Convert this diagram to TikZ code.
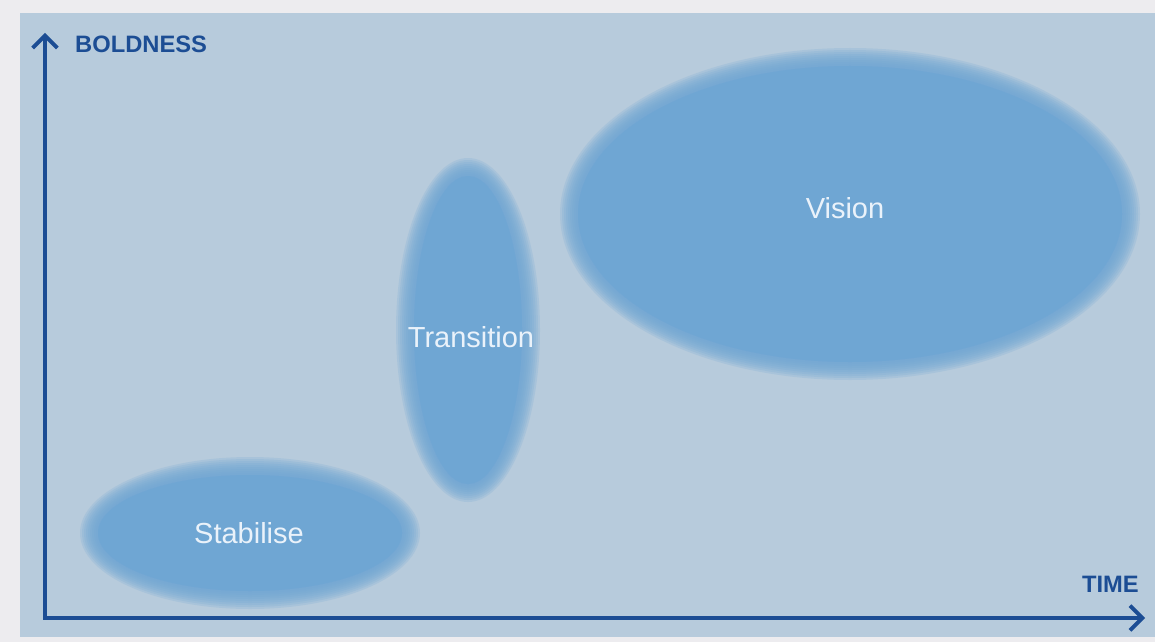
\documentclass[tikz,border=0pt]{standalone}
\usepackage{fontspec}
\setmainfont{Liberation Sans}
\usetikzlibrary{arrows.meta}
\definecolor{frame}{HTML}{EDECEF}
\definecolor{panel}{HTML}{B7CBDC}
\definecolor{blob}{HTML}{6FA6D3}
\definecolor{axisblue}{HTML}{1C4D94}
\definecolor{blobtext}{HTML}{EAF2FA}
\begin{document}
\begin{tikzpicture}[x=0.02cm,y=-0.02cm,
    axis/.style={axisblue, line width=2.2pt, line cap=round,
      {Straight Barb[length=7pt,width=14pt,line width=2.2pt]}-{Straight Barb[length=7pt,width=14pt,line width=2.2pt]}},
    axislabel/.style={axisblue, font=\fontsize{13.5}{15}\selectfont\bfseries},
    bloblabel/.style={blobtext, font=\fontsize{16.5}{18}\selectfont}]
    \useasboundingbox (0,0) rectangle (1155,642);
    \fill[frame] (0,0) rectangle (1155,642);
    \fill[panel] (20,13) rectangle (1155,637);
    % soft edged blobs
    \foreach \k in {0,...,9} {
        \fill[blob, fill opacity=0.2] (250,533) ellipse ({170-2*\k} and {76-2*\k});
        \fill[blob, fill opacity=0.2] (468,330) ellipse ({72-2*\k} and {172-2*\k});
        \fill[blob, fill opacity=0.2] (850,214) ellipse ({290-2*\k} and {166-2*\k});
    }
    \fill[blob] (250,533) ellipse (152 and 58);
    \fill[blob] (468,330) ellipse (54 and 154);
    \fill[blob] (850,214) ellipse (272 and 148);
    \node[bloblabel] (stabilise) at (249,533) {Stabilise};
    \node[bloblabel] (transition) at (471,337) {Transition};
    \node[bloblabel] (vision) at (845,208) {Vision};
    % axes
    \coordinate (ytop) at (45,33);
    \coordinate (origin) at (45,618);
    \coordinate (xend) at (1145,618);
    \draw[axis] (ytop) -- (origin) -- (xend);
    \node[axislabel, anchor=west] (boldness) at (69,44) {BOLDNESS};
    \node[axislabel, anchor=east] (time) at (1145,584) {TIME};
\end{tikzpicture}
\end{document}
